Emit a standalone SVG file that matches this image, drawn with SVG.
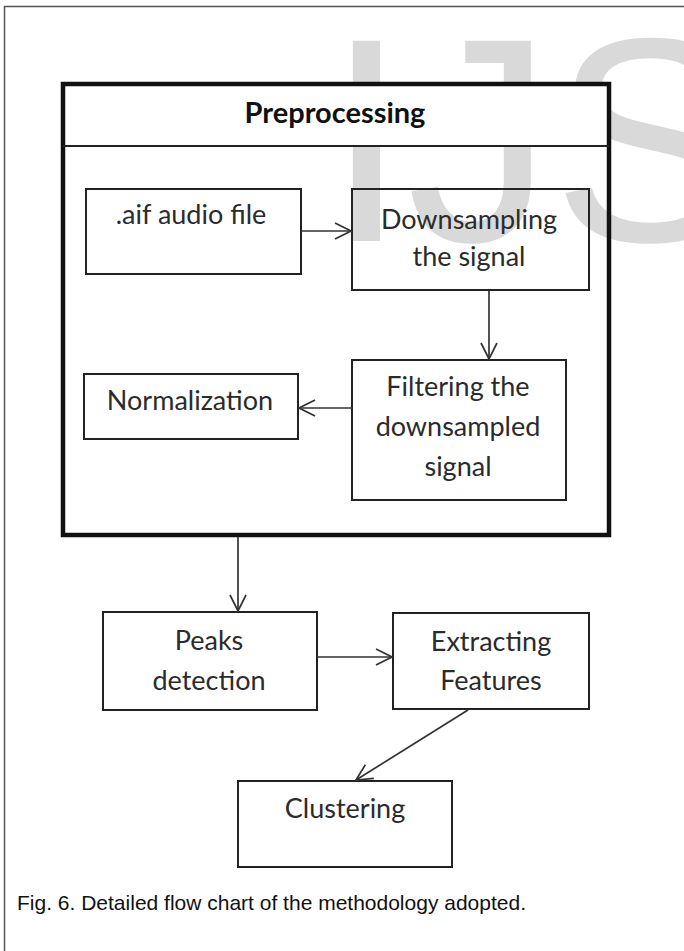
<svg xmlns="http://www.w3.org/2000/svg" width="684" height="951" viewBox="0 0 684 951">
<style>
.box{fill:none;stroke:#222;stroke-width:2}
.lbl{font-family:Lato,"Open Sans",sans-serif;font-size:27px;fill:#2b2b2b;text-anchor:middle}
.ttl{font-family:Lato,"Open Sans",sans-serif;font-size:29px;font-weight:bold;fill:#111;text-anchor:middle}
.con{fill:none;stroke:#333;stroke-width:1.7}
.wm{font-family:"Liberation Sans",Arial,sans-serif;font-size:291px;fill:#d9d9d9}
.cap{font-family:"Liberation Sans",Arial,sans-serif;font-size:21px;fill:#111}
</style>
<defs>
<marker id="ah" viewBox="0 0 18 18" refX="17" refY="9" markerWidth="18" markerHeight="18" markerUnits="userSpaceOnUse" orient="auto">
<path d="M1,1 L17,9 L1,17" fill="none" stroke="#333" stroke-width="1.7"/>
</marker>
</defs>
<rect x="0" y="0" width="684" height="951" fill="#fff"/>
<text class="wm" x="326" y="241">IJS</text>
<g id="frame">
<line x1="4" y1="6.5" x2="684" y2="6.5" stroke="#555" stroke-width="1.5"/>
<line x1="4.5" y1="6" x2="4.5" y2="951" stroke="#555" stroke-width="1.5"/>
</g>
<g id="preprocessing">
<rect x="64" y="85" width="543" height="61" fill="#fff"/>
<rect x="63" y="84" width="546" height="451" fill="none" stroke="#111" stroke-width="4.5"/>
<line x1="63" y1="146" x2="609" y2="146" stroke="#222" stroke-width="2"/>
<text class="ttl" x="335" y="123">Preprocessing</text>
</g>
<g id="aif">
<rect class="box" x="86" y="189" width="215" height="85"/>
<text class="lbl" x="191" y="224">.aif audio file</text>
</g>
<g id="downsampling">
<rect class="box" x="352" y="189" width="237" height="101"/>
<text class="lbl" x="469" y="229">Downsampling</text>
<text class="lbl" x="469" y="266">the signal</text>
</g>
<g id="filtering">
<rect class="box" x="352" y="360" width="214" height="140"/>
<text class="lbl" x="458" y="396">Filtering the</text>
<text class="lbl" x="458" y="436">downsampled</text>
<text class="lbl" x="458" y="476">signal</text>
</g>
<g id="normalization">
<rect class="box" x="84" y="374" width="214" height="65"/>
<text class="lbl" x="190" y="410">Normalization</text>
</g>
<g id="peaks">
<rect class="box" x="103" y="612" width="214" height="98"/>
<text class="lbl" x="209" y="650">Peaks</text>
<text class="lbl" x="209" y="690">detection</text>
</g>
<g id="extracting">
<rect class="box" x="393" y="613" width="196" height="96"/>
<text class="lbl" x="491" y="651">Extracting</text>
<text class="lbl" x="491" y="690">Features</text>
</g>
<g id="clustering">
<rect class="box" x="238" y="781" width="214" height="86"/>
<text class="lbl" x="345" y="818">Clustering</text>
</g>
<g id="connectors">
<line class="con" x1="301" y1="231" x2="351" y2="231" marker-end="url(#ah)"/>
<line class="con" x1="489" y1="291" x2="489" y2="359" marker-end="url(#ah)"/>
<line class="con" x1="352" y1="408" x2="299" y2="408" marker-end="url(#ah)"/>
<line class="con" x1="238" y1="537" x2="238" y2="611" marker-end="url(#ah)"/>
<line class="con" x1="317" y1="657" x2="392" y2="657" marker-end="url(#ah)"/>
<line class="con" x1="468" y1="710" x2="356" y2="780" marker-end="url(#ah)"/>
</g>
<text class="cap" x="17" y="910">Fig. 6. Detailed flow chart of the methodology adopted.</text>
</svg>
